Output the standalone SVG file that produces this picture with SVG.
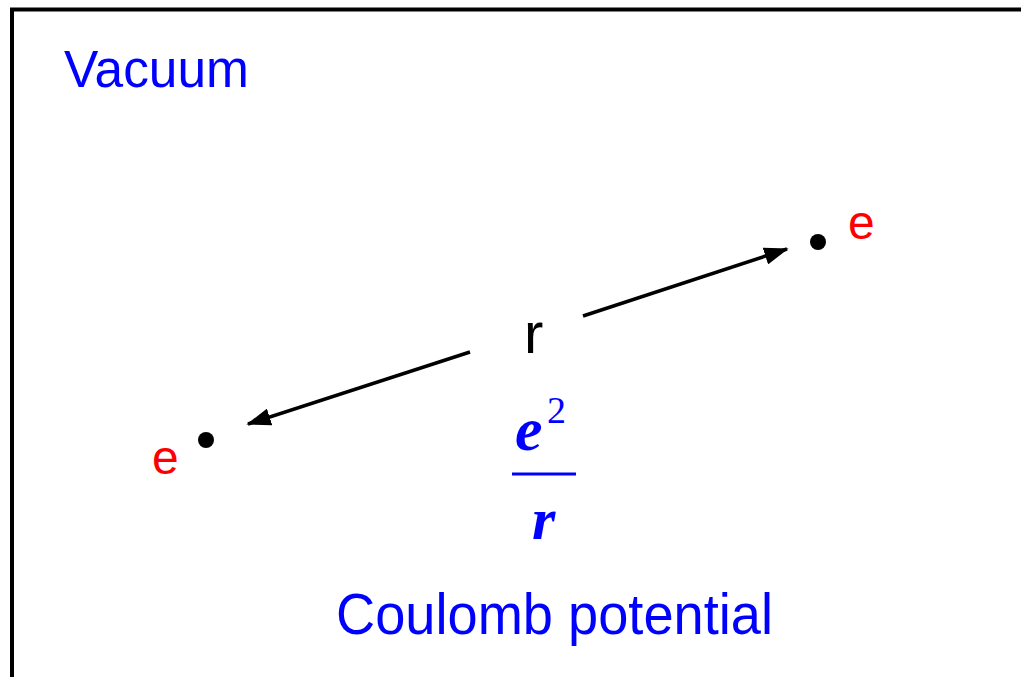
<svg xmlns="http://www.w3.org/2000/svg" width="1021" height="677" viewBox="0 0 1021 677">
<style>
.blue{fill:#0000FF;font-family:"Liberation Sans",Arial,sans-serif}
.red{fill:#FF0000;font-family:"Liberation Sans",Arial,sans-serif;font-size:48px}
.math{fill:#0000FF;font-family:"Liberation Serif","Times New Roman",serif;font-style:italic;font-weight:bold}
.conn{stroke:#000;stroke-width:3.5;fill:none}
</style>
<defs>
<marker id="ah" markerWidth="7" markerHeight="5" refX="6.5" refY="2.5" orient="auto" markerUnits="strokeWidth">
<path d="M0,0 L7,2.5 L0,5 Z" fill="#000"/>
</marker>
</defs>
<rect width="1021" height="677" fill="#fff"/>
<rect x="12" y="9.5" width="1030" height="700" fill="none" stroke="#000" stroke-width="4"/>
<text class="blue" x="64" y="87" font-size="51" textLength="185" lengthAdjust="spacingAndGlyphs">Vacuum</text>
<g id="connectors">
<line class="conn" x1="470" y1="352" x2="248" y2="424" marker-end="url(#ah)"/>
<line class="conn" x1="583" y1="316" x2="787" y2="249" marker-end="url(#ah)"/>
</g>
<g id="node-e-left">
<circle cx="206" cy="440" r="8" fill="#000"/>
<text class="red" x="152" y="474">e</text>
</g>
<g id="node-e-right">
<circle cx="818" cy="242" r="8" fill="#000"/>
<text class="red" x="848" y="239">e</text>
</g>
<text x="524" y="353" font-family="Liberation Sans,Arial,sans-serif" font-size="58" fill="#000">r</text>
<g id="formula">
<text class="math" x="515" y="450" font-size="62">e</text>
<text x="547" y="423" font-family="Liberation Serif,'Times New Roman',serif" font-size="38" fill="#0000FF">2</text>
<line x1="512" y1="474" x2="576" y2="474" stroke="#0000FF" stroke-width="3"/>
<text class="math" x="532" y="539" font-size="60">r</text>
</g>
<text class="blue" x="336" y="634" font-size="58" textLength="437" lengthAdjust="spacingAndGlyphs">Coulomb potential</text>
</svg>
